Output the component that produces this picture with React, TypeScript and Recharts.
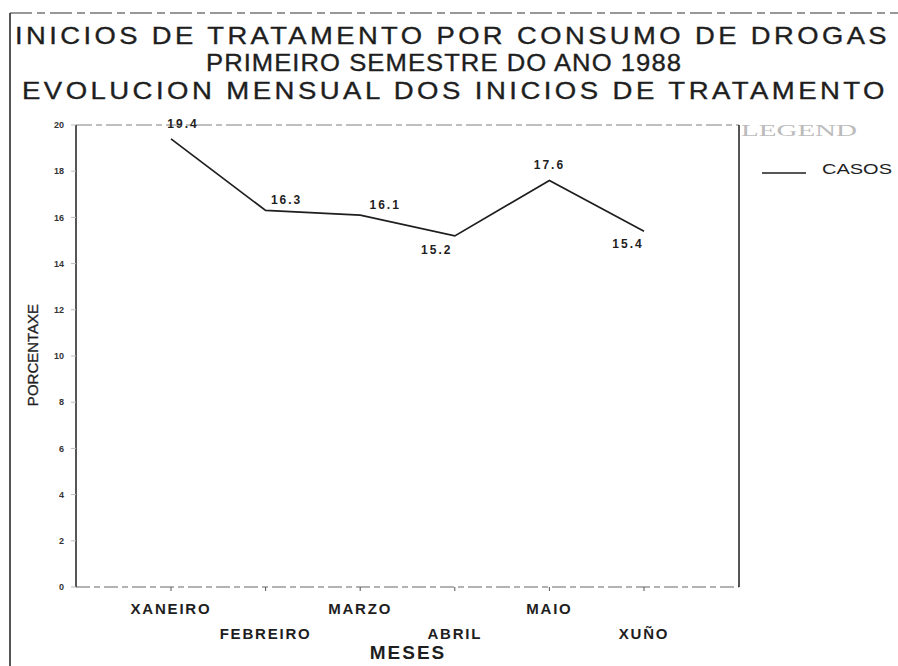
import React from 'react';
import { LineChart, Line, XAxis, YAxis, ReferenceLine, LabelList, Customized } from 'recharts';

const months = ['XANEIRO', 'FEBREIRO', 'MARZO', 'ABRIL', 'MAIO', 'XUÑO'];
const casos = [19.4, 16.3, 16.1, 15.2, 17.6, 15.4];
const yTicks = [0, 2, 4, 6, 8, 10, 12, 14, 16, 18, 20];
const titleLines = [
  'INICIOS DE TRATAMENTO POR CONSUMO DE DROGAS',
  'PRIMEIRO SEMESTRE DO ANO 1988',
  'EVOLUCION MENSUAL DOS INICIOS DE TRATAMENTO',
];

const data = months.map((m, i) => ({ mes: m, casos: casos[i] }));

const FONT = '"Liberation Sans", Arial, sans-serif';
const INK = '#1e1e1e';

// where each value label sits relative to its point (dx, dy)
const labelOffsets = [
  [12, -11], [21, -6], [25, -6], [-18, 18], [0, -11], [-16, 17],
];

function MonthTick(props: any) {
  const { x, y, payload, index } = props;
  const low = index % 2 === 1;
  return (
    <text x={x} y={y + (low ? 46 : 21)} textAnchor="middle" fontFamily={FONT} fontSize={15} fontWeight="bold"
      fill={INK} letterSpacing={1.8}>
      {payload.value}
    </text>
  );
}

function ValueLabel(props: any) {
  const { x, y, value, index } = props;
  const [dx, dy] = labelOffsets[index] || [0, -8];
  return (
    <text x={x + dx} y={y + dy} textAnchor="middle" fontFamily={FONT} fontSize={12} fontWeight="bold"
      fill={INK} letterSpacing={2}>
      {value.toFixed(1)}
    </text>
  );
}

function Decor() {
  const title = {
    fontFamily: FONT, fontSize: 24, fill: INK, stroke: INK, strokeWidth: 0.35, lengthAdjust: 'spacingAndGlyphs',
  };
  return (
    <g>
      <line x1={10} y1={13} x2={898} y2={13} stroke="#777" strokeWidth={1.5} strokeDasharray="22 5 8 5" />
      <line x1={10} y1={13} x2={10} y2={666} stroke={INK} strokeWidth={1.5} />
      <text x={15} y={44} {...title} letterSpacing={3} textLength={875}>{titleLines[0]}</text>
      <text x={206} y={71} {...title} letterSpacing={1} textLength={476}>{titleLines[1]}</text>
      <text x={22} y={99} {...title} letterSpacing={3} textLength={866}>{titleLines[2]}</text>
      <text x={741} y={136} fontFamily='"Liberation Serif", serif' fontSize={16} fill="#bbb" textLength={116}
        lengthAdjust="spacingAndGlyphs">
        LEGEND
      </text>
      <line x1={762} y1={173} x2={806} y2={173} stroke={INK} strokeWidth={1.5} />
      <text x={822} y={174} fontFamily={FONT} fontSize={14} fill={INK} textLength={70} lengthAdjust="spacingAndGlyphs">
        CASOS
      </text>
      <text x={408} y={659} textAnchor="middle" fontFamily={FONT} fontSize={19} fontWeight="bold" fill={INK}
        letterSpacing={2}>
        MESES
      </text>
      <text x={38} y={355} transform="rotate(-90 38 355)" textAnchor="middle" fontFamily={FONT} fontSize={15}
        fill={INK} stroke={INK} strokeWidth={0.3}>
        PORCENTAXE
      </text>
    </g>
  );
}

export default function App() {
  return (
    <div style={{ position: 'absolute', left: 0, top: 0, width: 898, height: 666, background: '#fff' }}>
      <LineChart width={898} height={666} data={data} margin={{ top: 125, right: 158, bottom: 19, left: 26 }}>
        <XAxis dataKey="mes" interval={0} height={60} padding={{ left: 95, right: 95 }}
          axisLine={{ stroke: '#999', strokeWidth: 1.5, strokeDasharray: '14 4 6 4' }}
          tickLine={{ stroke: '#555' }} tickSize={4} tick={<MonthTick />} />
        <YAxis domain={[0, 20]} ticks={yTicks} width={50} tickSize={5} tickMargin={7}
          axisLine={{ stroke: INK, strokeWidth: 1.5 }} tickLine={{ stroke: '#bbb' }}
          tick={{ fontSize: 9, fill: '#333', fontFamily: FONT, fontWeight: 'bold' }} />
        <YAxis yAxisId="right" orientation="right" width={1} tick={false} tickLine={false}
          axisLine={{ stroke: INK, strokeWidth: 1.5 }} />
        <ReferenceLine y={20} stroke="#aaa" strokeWidth={1.5} strokeDasharray="16 4 6 4" />
        <Line type="linear" dataKey="casos" stroke={INK} strokeWidth={1.7} dot={false} isAnimationActive={false}>
          <LabelList dataKey="casos" content={<ValueLabel />} />
        </Line>
        <Customized component={<Decor />} />
      </LineChart>
    </div>
  );
}
